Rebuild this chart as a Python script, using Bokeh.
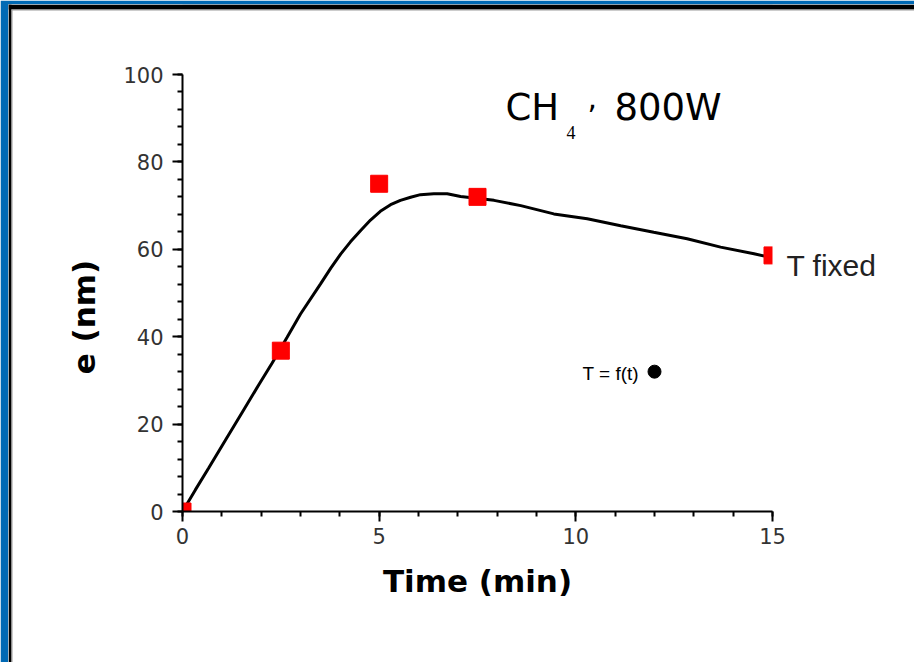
import math

from bokeh.plotting import figure
from bokeh.models import Range1d, SingleIntervalTicker, Label, BoxAnnotation
from bokeh.embed import file_html
from bokeh.resources import INLINE

# Measured film thickness (red squares)
time_min = [0, 2.5, 5, 7.5, 15]
thickness_nm = [0, 36.8, 75, 72, 58.6]

# Smoothed trend through the measurements
curve_time = [0, 0.08, 0.33, 0.67, 1.09, 1.52, 1.94, 2.28, 2.66, 3.0, 3.51, 3.77,
              4.02, 4.27, 4.53, 4.78, 5.03, 5.29, 5.54, 5.80, 6.05, 6.39, 6.73,
              7.07, 7.92, 8.6, 9.44, 10.29, 11.14, 11.98, 12.83, 13.68, 14.53, 14.82]
curve_thickness = [0, 1.2, 5.0, 10.0, 16.3, 22.7, 29.0, 34.0, 39.9, 45.2, 52.1, 55.7,
                   58.9, 61.7, 64.3, 66.7, 68.7, 70.2, 71.2, 71.9, 72.5, 72.7, 72.7,
                   72.1, 71.2, 70.0, 68.1, 67.0, 65.4, 63.9, 62.4, 60.5, 59.0, 58.4]

# Single point for the T = f(t) series
tf_time = [12]
tf_thickness = [32]

# Axis extents
X_MIN, X_MAX = 0, 15
Y_MIN, Y_MAX = 0, 100

# Page geometry (pixels). A thin coloured margin runs along the top and left;
# the rest of the canvas is one wide plotting area so that annotations can sit
# anywhere around the axes.
W, H = 914, 662
EDGE_LEFT, EDGE_TOP = 8, 4
AX_LEFT, AX_RIGHT = 182, 772
AX_TOP, AX_BOTTOM = 74, 511

kx = (AX_RIGHT - AX_LEFT) / (X_MAX - X_MIN)
ky = (AX_BOTTOM - AX_TOP) / (Y_MAX - Y_MIN)


def px(sx):
    return X_MIN + (sx - AX_LEFT) / kx


def py(sy):
    return Y_MIN + (AX_BOTTOM - sy) / ky


p = figure(
    width=W, height=H,
    x_range=Range1d(px(EDGE_LEFT), px(W)), y_range=Range1d(py(H), py(EDGE_TOP)),
    output_backend="svg", toolbar_location=None,
    min_border_left=EDGE_LEFT, min_border_top=EDGE_TOP,
    min_border_right=0, min_border_bottom=0,
)
p.outline_line_color = None
p.background_fill_color = "white"
p.border_fill_color = "#0069b4"
p.xgrid.visible = False
p.ygrid.visible = False

xa = p.xaxis[0]
ya = p.yaxis[0]
xa.fixed_location = Y_MIN
ya.fixed_location = X_MIN
xa.bounds = (X_MIN, X_MAX)
ya.bounds = (Y_MIN, Y_MAX)
xa.ticker = SingleIntervalTicker(interval=5, num_minor_ticks=5)
ya.ticker = SingleIntervalTicker(interval=20, num_minor_ticks=5)

for ax in (xa, ya):
    ax.axis_line_color = "black"
    ax.axis_line_width = 2
    ax.major_tick_line_color = "black"
    ax.major_tick_line_width = 2
    ax.minor_tick_line_color = "black"
    ax.minor_tick_line_width = 2
    ax.major_tick_out = 10
    ax.major_tick_in = 0
    ax.minor_tick_out = 5
    ax.minor_tick_in = 0
    ax.major_label_text_font = "DejaVu Sans"
    ax.major_label_text_font_size = "21px"
    ax.major_label_text_color = "#333333"

xa.axis_label = "Time (min)"
xa.axis_label_text_font = "DejaVu Sans"
xa.axis_label_text_font_style = "bold"
xa.axis_label_text_font_size = "31px"
xa.axis_label_text_color = "black"
xa.major_label_standoff = 6
xa.axis_label_standoff = 16
ya.major_label_standoff = 9

# Data marks, drawn beneath the white masks that trim them to the axes box
line_r = p.line(curve_time, curve_thickness, line_color="black", line_width=3)
sq_r = p.scatter(time_min, thickness_nm, marker="square", size=17,
                 fill_color="#ff0000", line_color="#ff0000")
dot_r = p.scatter(tf_time, tf_thickness, marker="circle", size=13,
                  fill_color="black", line_color="black")
for r in (line_r, sq_r, dot_r):
    r.level = "underlay"

for box in (dict(right=X_MIN), dict(left=X_MAX), dict(top=Y_MIN)):
    p.add_layout(BoxAnnotation(**box, fill_color="white", fill_alpha=1,
                               line_color=None, level="glyph"))

# Black and grey rules just inside the coloured margin
edges = [
    (EDGE_LEFT, W, EDGE_TOP, 9, "black"),
    (EDGE_LEFT, 11, EDGE_TOP, H, "black"),
    (11, W, 9, 10, "#9a9a9a"),
    (11, 12, 9, H, "#9a9a9a"),
]
for l, r, t, b, c in edges:
    p.add_layout(BoxAnnotation(left=px(l), right=px(r), top=py(t), bottom=py(b),
                               fill_color=c, fill_alpha=1, line_color=None))

# Vertical axis title
p.add_layout(Label(x=px(83.5), y=py(316.5), text="e (nm)", angle=math.pi / 2,
                   text_font="DejaVu Sans", text_font_style="bold",
                   text_font_size="31px", text_color="black",
                   text_align="center", text_baseline="middle"))

# Annotations
p.add_layout(Label(x=px(505), y=py(106.7), text="CH", text_font="DejaVu Sans",
                   text_font_size="37px", text_baseline="alphabetic",
                   text_color="black"))
p.add_layout(Label(x=px(566), y=py(131.7), text="4", text_font="Liberation Serif",
                   text_font_size="18px", text_baseline="alphabetic",
                   text_color="black"))
p.add_layout(Label(x=px(587), y=py(96), text=",", text_font="DejaVu Sans",
                   text_font_size="30px", text_baseline="alphabetic",
                   text_color="black"))
p.add_layout(Label(x=px(614), y=py(106.7), text="800W", text_font="DejaVu Sans",
                   text_font_size="37px", text_baseline="alphabetic",
                   text_color="black"))
p.add_layout(Label(x=px(786), y=py(265), text="T fixed", text_font="Liberation Sans",
                   text_font_size="30px", text_baseline="alphabetic",
                   text_color="#222222"))
p.add_layout(Label(x=px(582), y=py(373), text="T = f(t)", text_font="Liberation Sans",
                   text_font_size="19px", text_baseline="alphabetic",
                   text_color="black"))

open("out.html", "w").write(file_html(p, INLINE))
